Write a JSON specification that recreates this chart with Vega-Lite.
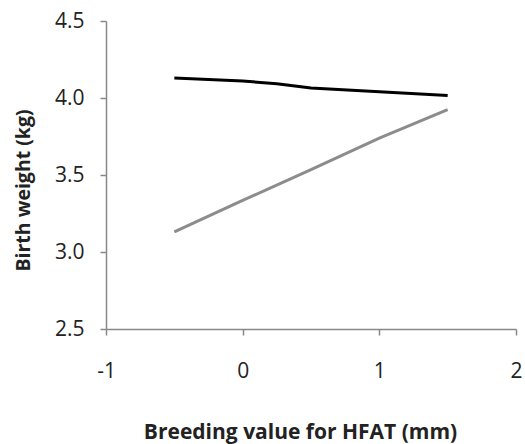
{
  "$schema": "https://vega.github.io/schema/vega-lite/v6.json",
  "autosize": "none",
  "width": 410,
  "height": 308,
  "padding": {"left": 106, "top": 21, "right": 9, "bottom": 115},
  "background": "white",
  "config": {"view": {"stroke": null}, "font": "Open Sans"},
  "data": {"values": [
    {"x": -0.5, "y": 4.13, "group": "A"},
    {"x": 0, "y": 4.11, "group": "A"},
    {"x": 0.25, "y": 4.093, "group": "A"},
    {"x": 0.5, "y": 4.065, "group": "A"},
    {"x": 1, "y": 4.04, "group": "A"},
    {"x": 1.5, "y": 4.016, "group": "A"},
    {"x": -0.5, "y": 3.13, "group": "B"},
    {"x": 0, "y": 3.335, "group": "B"},
    {"x": 0.5, "y": 3.535, "group": "B"},
    {"x": 1, "y": 3.74, "group": "B"},
    {"x": 1.5, "y": 3.925, "group": "B"}
  ]},
  "mark": {"type": "line", "strokeWidth": 3},
  "encoding": {
    "x": {"field": "x", "type": "quantitative",
      "scale": {"domain": [-1, 2], "nice": false, "zero": false},
      "axis": {"values": [-1, 0, 1, 2], "labelExpr": "'' + datum.value", "title": "Breeding value for HFAT (mm)", "grid": false,
        "domainColor": "#888", "domainWidth": 1.5, "tickColor": "#888", "tickWidth": 1.5, "tickSize": 6,
        "labelFontSize": 21, "labelColor": "#222", "labelPadding": 25, "labelFlush": false,
        "titleFontSize": 21, "titleFontWeight": "bold", "titleColor": "#222",
        "titleX": 194, "titleY": 109, "titleAlign": "center", "titleBaseline": "alphabetic", "titleAnchor": null}},
    "y": {"field": "y", "type": "quantitative",
      "scale": {"domain": [2.5, 4.5], "nice": false, "zero": false},
      "axis": {"values": [2.5, 3.0, 3.5, 4.0, 4.5], "format": ".1f", "title": "Birth weight (kg)", "grid": false,
        "domainColor": "#888", "domainWidth": 1.5, "tickColor": "#888", "tickWidth": 1.5, "tickSize": 6,
        "labelFontSize": 21, "labelColor": "#222", "labelPadding": 16, "labelFlush": false,
        "titleFontSize": 19.5, "titleFontWeight": "bold", "titleColor": "#222",
        "titleX": -83, "titleY": 169, "titleAlign": "center", "titleBaseline": "middle", "titleAngle": -90}},
    "color": {"field": "group", "type": "nominal",
      "scale": {"domain": ["A", "B"], "range": ["#000000", "#8c8c8c"]}, "legend": null}
  }
}
